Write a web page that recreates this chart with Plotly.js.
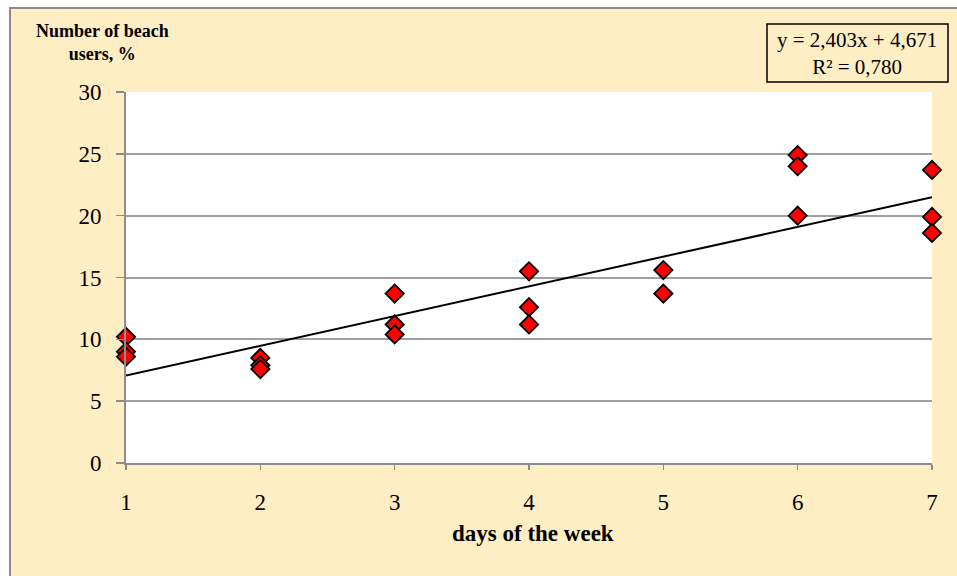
<!DOCTYPE html>
<html>
<head>
<meta charset="utf-8">
<script src="https://cdn.plot.ly/plotly-3.0.1.min.js"></script>
<style>
  html, body { margin: 0; padding: 0; background: #ffffff; overflow: hidden; }
  #frame { position: absolute; left: 9px; top: 7px; width: 960px; height: 580px;
           background: #FFEDC3; border: 2px solid #8c8c8c; }
  #chart { position: absolute; left: 0; top: 0; width: 957px; height: 576px; }
</style>
</head>
<body>
<div id="frame"></div>
<div id="chart"></div>
<script>
// Data
const days = [1, 1, 1, 2, 2, 2, 3, 3, 3, 4, 4, 4, 5, 5, 6, 6, 6, 7, 7, 7];
const users = [10.2, 9.0, 8.6, 8.5, 7.9, 7.6, 13.7, 11.2, 10.4, 15.5, 12.6, 11.2, 15.6, 13.7, 24.9, 24.0, 20.0, 23.7, 19.9, 18.6];
const trendSlope = 2.403;
const trendIntercept = 4.671;
const trendR2 = '0,780';
const trendX = [1, 7];
const trendY = trendX.map(x => trendSlope * x + trendIntercept);
const xTicks = [1, 2, 3, 4, 5, 6, 7];
const yTicks = [0, 5, 10, 15, 20, 25, 30];

const serif = "Liberation Serif, Times New Roman, serif";
const px = x => (x - 126) / 806;   // pixel -> paper x
const py = y => (463 - y) / 371;   // pixel -> paper y

const traces = [
  {
    x: trendX, y: trendY, type: 'scatter', mode: 'lines',
    line: { color: '#000000', width: 2 }, hoverinfo: 'skip', showlegend: false
  },
  {
    x: days, y: users, type: 'scatter', mode: 'markers', cliponaxis: false,
    marker: { symbol: 'diamond', size: 14, color: '#ff0000', line: { color: '#000000', width: 1.8 } },
    showlegend: false
  }
];

const fmt = v => v.toFixed(3).replace('.', ',');

const layout = {
  width: 957, height: 576,
  margin: { l: 126, r: 25, t: 92, b: 113 },
  paper_bgcolor: 'rgba(0,0,0,0)',
  plot_bgcolor: '#ffffff',
  font: { family: serif, color: '#000000', size: 23 },
  xaxis: {
    range: [1, 7], tickvals: xTicks, ticktext: xTicks.map(String),
    showgrid: false, zeroline: false,
    showline: true, linecolor: '#8c8c8c', linewidth: 2,
    ticks: 'outside', ticklen: 5, tickwidth: 1.5, tickcolor: '#8c8c8c',
    ticklabelstandoff: 12,
    tickfont: { family: serif, size: 23, color: '#000000' },
    fixedrange: true
  },
  yaxis: {
    range: [0, 30], tickvals: yTicks, ticktext: yTicks.map(String),
    showgrid: true, gridcolor: '#a0a0a0', gridwidth: 2, zeroline: false,
    showline: true, linecolor: '#8c8c8c', linewidth: 2,
    ticks: 'outside', ticklen: 8, tickwidth: 1.5, tickcolor: '#8c8c8c',
    ticklabelstandoff: 10,
    tickfont: { family: serif, size: 23, color: '#000000' },
    fixedrange: true
  },
  shapes: [
    {
      type: 'rect', xref: 'paper', yref: 'paper',
      x0: px(767), x1: px(948), y0: py(82), y1: py(24),
      line: { color: '#000000', width: 1.5 }, fillcolor: 'rgba(0,0,0,0)'
    }
  ],
  annotations: [
    {
      xref: 'paper', yref: 'paper', x: px(102), y: py(42),
      xanchor: 'center', yanchor: 'middle', showarrow: false, align: 'center',
      text: '<b>Number of beach<br>users, %</b>',
      font: { family: serif, size: 18, color: '#000000' }
    },
    {
      xref: 'paper', yref: 'paper', x: px(533), y: py(533),
      xanchor: 'center', yanchor: 'middle', showarrow: false,
      text: '<b>days of the week</b>',
      font: { family: serif, size: 23, color: '#000000' }
    },
    {
      xref: 'paper', yref: 'paper', x: px(857), y: py(53),
      xanchor: 'center', yanchor: 'middle', showarrow: false, align: 'center',
      text: 'y = ' + fmt(trendSlope) + 'x + ' + fmt(trendIntercept) + '<br>R² = ' + trendR2,
      font: { family: serif, size: 21, color: '#000000' }
    }
  ]
};

Plotly.newPlot('chart', traces, layout, { displayModeBar: false, staticPlot: true });
</script>
</body>
</html>
